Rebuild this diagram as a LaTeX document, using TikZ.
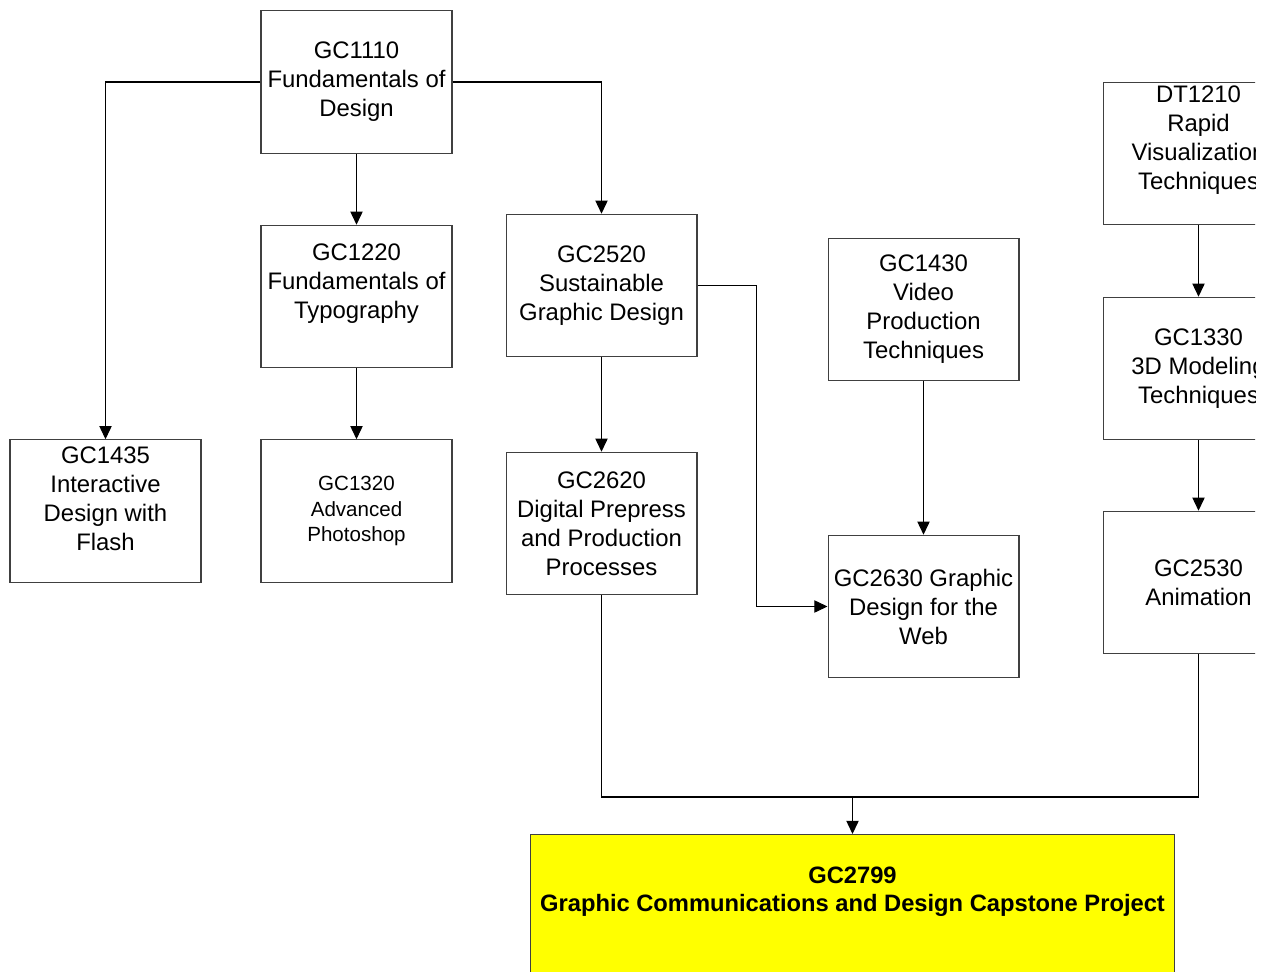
\documentclass[tikz,border=0pt]{standalone}
\usepackage{fontspec}
\setmainfont{Liberation Sans}
\usetikzlibrary{arrows.meta, positioning}
\definecolor{boxLine}{HTML}{404040}
\definecolor{capYellow}{HTML}{FFFF00}

\tikzset{
  course/.style={draw=boxLine, line width=0.6pt, minimum width=3.82cm,
    minimum height=2.85cm, inner sep=0pt, align=center,
    font=\fontsize{13.6}{16.5}\selectfont},
  tag/.style={align=center, inner sep=0pt, font=\fontsize{13.6}{16.5}\selectfont},
  link/.style={draw=black, line width=0.6pt},
  arr/.style={link, -{Triangle[width=7pt, length=7.5pt]}},
}

\begin{document}
\begin{tikzpicture}[x=0.02cm, y=-0.02cm]
    \useasboundingbox (0, 0) rectangle (1266, 972);
    \clip (0, 0) rectangle (1255, 972);

    % Primer semestre
    \node[course] (gc1110) at (356.5, 82) {GC1110\\Fundamentals of\\Design};
    \node[course] (gc1220) at (356.5, 296.5) {};
    \node[tag] (gc1220 text) at (356.5, 284) {GC1220\\Fundamentals of\\Typography};
    \node[course, font=\fontsize{11.7}{14.5}\selectfont] (gc1320) at (356.5, 511) {GC1320\\Advanced\\Photoshop};
    \node[course] (gc1435) at (105.5, 511) {};
    \node[tag] (gc1435 text) at (105.5, 498.5) {GC1435\\Interactive\\Design with\\Flash};

    % Diseno grafico
    \node[course] (gc2520) at (601.5, 285.5) {GC2520\\Sustainable\\Graphic Design};
    \node[course] (gc2620) at (601.5, 523.5) {GC2620\\Digital Prepress\\and Production\\Processes};
    \node[course] (gc1430) at (923.5, 309.5) {GC1430\\Video\\Production\\Techniques};
    \node[course] (gc2630) at (923.5, 606.5) {GC2630 Graphic\\Design for the\\Web};

    % Columna derecha
    \node[course] (dt1210) at (1198.5, 153.5) {};
    \node[tag] (dt1210 text) at (1198.5, 140.5) {DT1210\\Rapid\\Visualization\\Techniques};
    \node[course] (gc1330) at (1198.5, 368.5) {GC1330\\3D Modeling\\Techniques};
    \node[course] (gc2530) at (1198.5, 582.5) {GC2530\\Animation};

    % Capstone
    \node[course, fill=capYellow, anchor=north, minimum width=12.9cm,
      minimum height=4cm] (gc2799) at (852.5, 834) {};
    \node[tag, font=\fontsize{13.5}{15.9}\selectfont\bfseries] (gc2799 text) at (852.5, 891.5)
      {GC2799\\Graphic Communications and Design Capstone Project};

    % Flechas
    \draw[arr] (gc1110.west) -| (gc1435.north);
    \draw[arr] (gc1110.east) -| (gc2520.north);
    \draw[arr] (gc1110.south) -- (gc1220.north);
    \draw[arr] (gc1220.south) -- (gc1320.north);
    \draw[arr] (gc2520.south) -- (gc2620.north);
    \draw[arr] (gc2520.east) -- ++(59, 0) |- (gc2630.west);
    \draw[arr] (gc1430.south) -- (gc2630.north);
    \draw[arr] (dt1210.south) -- (gc1330.north);
    \draw[arr] (gc1330.south) -- (gc2530.north);

    % Union hacia el proyecto final
    \coordinate (merge) at (852.5, 797);
    \draw[link] (gc2620.south) |- (merge);
    \draw[link] (gc2530.south) |- (merge);
    \draw[arr] (merge) -- (gc2799.north);
\end{tikzpicture}
\end{document}
